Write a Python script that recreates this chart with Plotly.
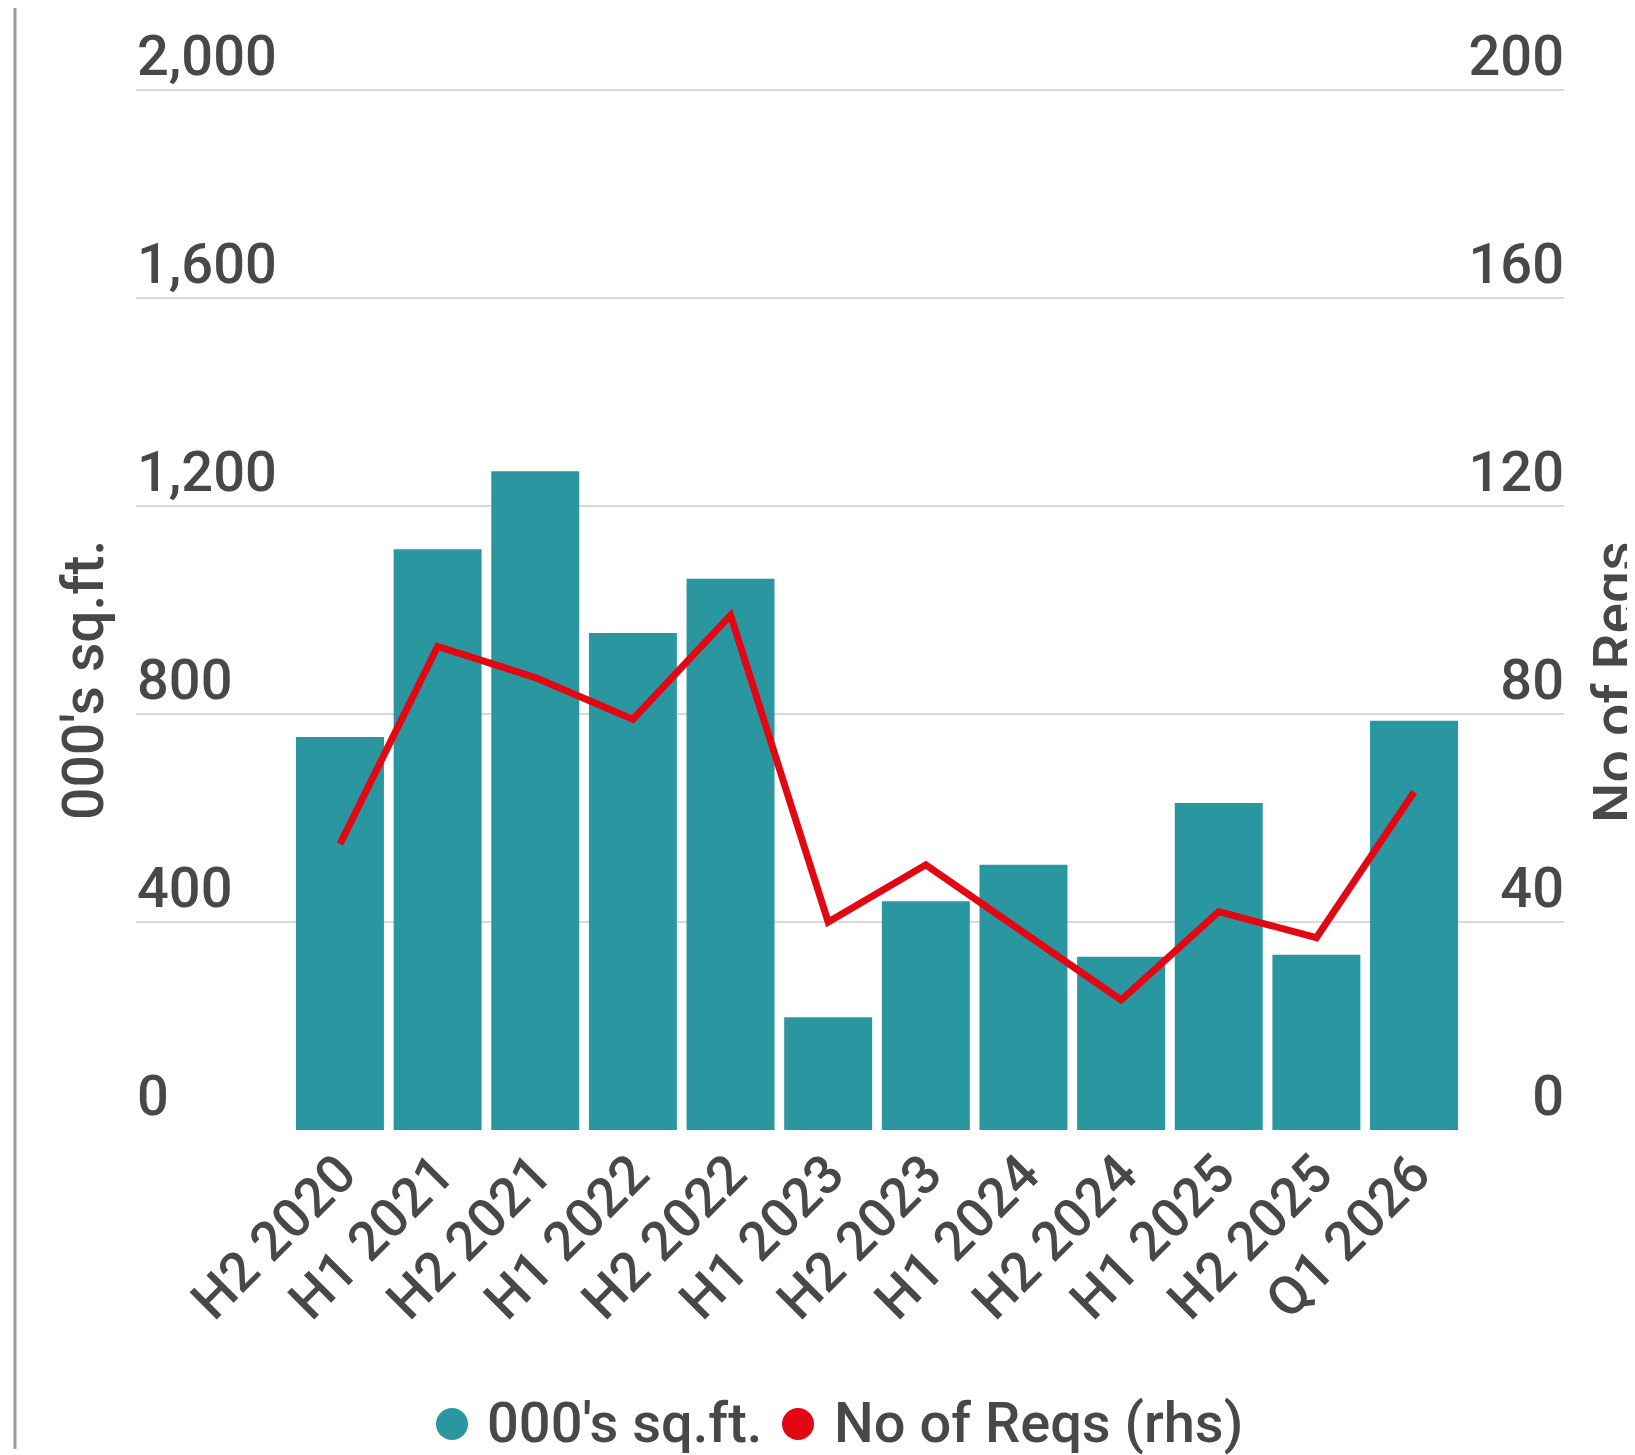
import plotly.graph_objects as go

categories = ["H2 2020", "H1 2021", "H2 2021", "H1 2022", "H2 2022", "H1 2023",
              "H2 2023", "H1 2024", "H2 2024", "H1 2025", "H2 2025", "Q1 2026"]
sqft = [756, 1117, 1267, 956, 1060, 217, 440, 510, 333, 629, 337, 787]
reqs = [55, 93, 87, 79, 99, 40, 51, 38, 25, 42, 37, 65]

left_ticks = [0, 400, 800, 1200, 1600, 2000]
right_ticks = [0, 40, 80, 120, 160, 200]

TEAL = "#2a96a0"
RED = "#e30613"
TXT = "#484848"
GRID = "#d9d9d9"
FONT = "Roboto"
WEIGHT = 500

# page body has an 8px margin; figure coordinates are offset accordingly
OFF = 8
W, H = 1635 - OFF, 1455 - OFF
L, R, T = 136 - OFF, 71, 0
ZERO_Y = 1130 - OFF          # y of the zero line in figure px
B = H - ZERO_Y
PW = W - L - R
PH = ZERO_Y - T
PX_PER_UNIT = (1130 - 90) / 2000.0
YMAX = PH / PX_PER_UNIT
Y2MAX = YMAX / 10.0


def px(x):  # page x -> paper
    return (x - OFF - L) / PW


def py(y):  # page y -> paper
    return (ZERO_Y - (y - OFF)) / PH


fig = go.Figure()
fig.add_trace(go.Bar(x=categories, y=sqft, name="000's sq.ft.", marker=dict(color=TEAL, line=dict(width=0)),
                     yaxis="y", showlegend=False))
fig.add_trace(go.Scatter(x=categories, y=reqs, name="No of Reqs (rhs)", mode="lines",
                         line=dict(color=RED, width=7), yaxis="y2", showlegend=False))

fig.update_layout(
    width=W, height=H,
    margin=dict(l=L, r=R, t=T, b=B, autoexpand=False),
    paper_bgcolor="white", plot_bgcolor="white",
    font=dict(family=FONT, color=TXT, size=56, weight=WEIGHT),
    bargap=0.099,
    showlegend=False,
    xaxis=dict(type="category", range=[-2.089, 12.536], tickangle=-45, showgrid=False,
               showline=False, zeroline=False, ticks="",
               tickfont=dict(size=54, color=TXT, family=FONT, weight=WEIGHT),
               automargin=False),
    yaxis=dict(range=[0, YMAX], tickvals=left_ticks, tickformat=",", showgrid=True, gridcolor=GRID,
               gridwidth=2, zeroline=False, showline=False, ticks="",
               ticklabelposition="inside top", ticklabelshift=5, ticklabelstandoff=-2,
               tickfont=dict(size=56, color=TXT, family=FONT, weight=WEIGHT), automargin=False),
    yaxis2=dict(range=[0, Y2MAX], tickvals=right_ticks, overlaying="y", side="right", showgrid=False,
                zeroline=False, showline=False, ticks="", ticklabelposition="inside top",
                ticklabelshift=5, ticklabelstandoff=-3,
                tickfont=dict(size=56, color=TXT, family=FONT, weight=WEIGHT), automargin=False),
)

# axis titles
fig.add_annotation(text="000's sq.ft.", xref="paper", yref="paper", x=px(83), y=py(680),
                   textangle=-90, showarrow=False, xanchor="center", yanchor="middle",
                   font=dict(size=57, color=TXT, family=FONT, weight=WEIGHT))
fig.add_annotation(text="No of Reqs", xref="paper", yref="paper", x=px(1614), y=py(682),
                   textangle=-90, showarrow=False, xanchor="center", yanchor="middle",
                   font=dict(size=57, color=TXT, family=FONT, weight=WEIGHT))

# legend (custom, circle symbols)
legend_items = [("000's sq.ft.", TEAL, 452, 485), ("No of Reqs (rhs)", RED, 798, 832)]
for label, col, cx, tx in legend_items:
    fig.add_shape(type="circle", xref="paper", yref="paper", xsizemode="pixel", ysizemode="pixel",
                  xanchor=px(cx), yanchor=py(1424), x0=-16, x1=16, y0=-16, y1=16,
                  fillcolor=col, line=dict(width=0))
    fig.add_annotation(text=label, xref="paper", yref="paper", x=px(tx), y=py(1423),
                       showarrow=False, xanchor="left", yanchor="middle",
                       font=dict(size=56, color=TXT, family=FONT, weight=WEIGHT))

# left vertical rule
fig.add_shape(type="line", xref="paper", yref="paper", x0=px(15), x1=px(15), y0=py(0), y1=py(1449),
              line=dict(color="#9e9e9e", width=3))

fig.write_html("out.html")
